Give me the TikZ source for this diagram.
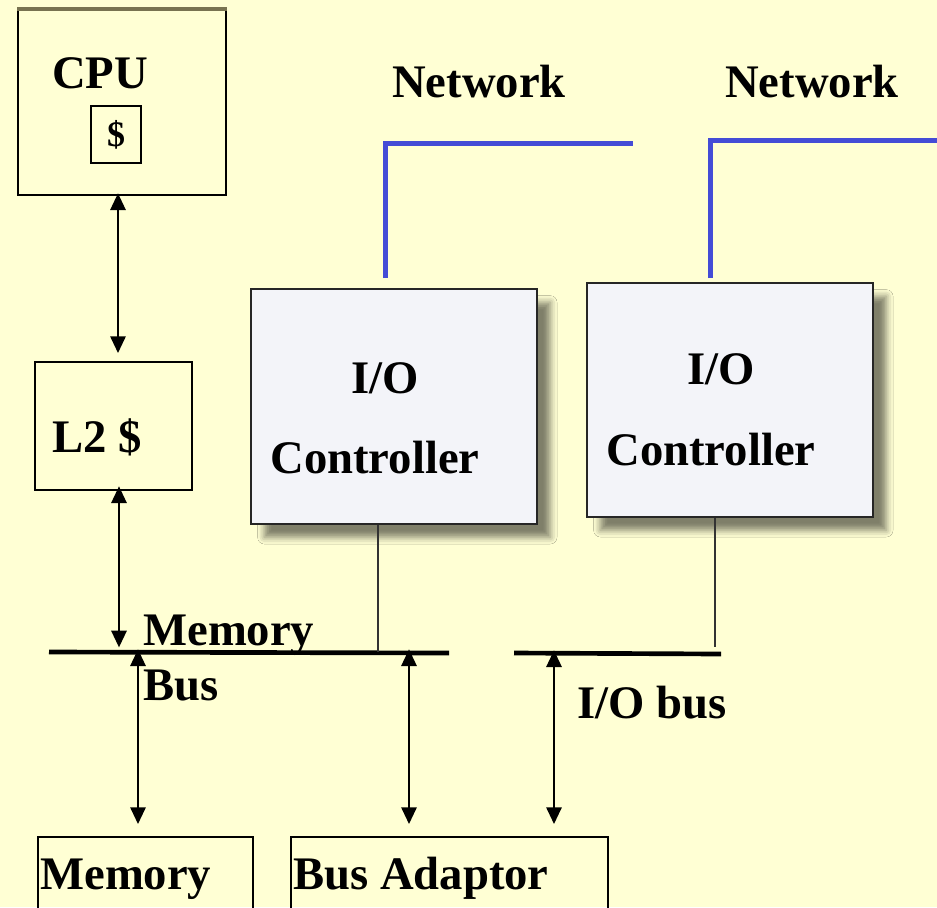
\documentclass[tikz,border=0pt]{standalone}
\usepackage{fontspec}
\setmainfont{Liberation Serif}
\usetikzlibrary{arrows.meta,fit,shadows.blur}
\definecolor{paper}{RGB}{255,255,212}
\definecolor{netblue}{RGB}{68,76,214}
\definecolor{ctrlfill}{RGB}{243,244,249}
\definecolor{edgesmear}{RGB}{120,115,80}
\begin{document}
\begin{tikzpicture}[x=0.75pt,y=-0.75pt,
  lbl/.style={font=\fontsize{35}{42}\selectfont\bfseries, inner sep=0pt},
  box/.style={draw=black, line width=1.5pt, inner sep=0pt},
  iobox/.style={draw=black!85, line width=1.5pt, fill=ctrlfill, inner sep=0pt,
    blur shadow={shadow xshift=10pt, shadow yshift=-10pt, shadow blur radius=5pt, shadow opacity=50}},
  darrow/.style={line width=1.4pt, {Triangle[length=12.5pt,width=11.5pt]}-{Triangle[length=12.5pt,width=11.5pt]}},
  bus/.style={line width=3.5pt},
  tap/.style={line width=1.1pt, draw=black!80},
  net/.style={line width=3.75pt, draw=netblue}]
% page
\fill[paper] (0,0) rectangle (937,907);
\useasboundingbox (0,0) rectangle (937,907);

% column positions used by the vertical links
\coordinate (x118) at (118,0);
\coordinate (x119) at (119,0);
\coordinate (x138) at (138,0);
\coordinate (x378) at (378,0);
\coordinate (x385) at (385,0);
\coordinate (x409) at (409,0);
\coordinate (x554) at (554,0);
\coordinate (x710) at (710,0);
\coordinate (x715) at (715,0);

% CPU with its cache
\node[box, fit={(18,10)(226,195)}] (cpu) {};
\draw[line width=2.4pt, draw=edgesmear] (cpu.north west) -- (cpu.north east);
\node[box, fit={(91,106)(141,163)}] (cache) {};
\node[lbl, anchor=base west] (cpulbl) at (52,88) {CPU};
\node[font=\fontsize{27}{31}\selectfont\bfseries, inner sep=0pt] (dollar) at (cache.center) {\$};

% second-level cache
\node[box, fit={(35,362)(192,490)}] (l2) {};
\node[lbl, anchor=base west] (l2lbl) at (52,452) {L2 \$};

% I/O controllers
\node[iobox, fit={(251,289)(537,524)}] (ioc1) {};
\node[lbl, anchor=base] (ioc1a) at (385,393) {I/O};
\node[lbl, anchor=base] (ioc1b) at (375,473) {Controller};
\node[iobox, fit={(587,283)(873,517)}] (ioc2) {};
\node[lbl, anchor=base] (ioc2a) at (721,384) {I/O};
\node[lbl, anchor=base] (ioc2b) at (711,465) {Controller};

% network links
\node[lbl, anchor=base west] (net1) at (392,97) {Network};
\node[lbl, anchor=base west] (net2) at (725,97) {Network};
\coordinate (n1end) at (633,143);
\coordinate (n2end) at (937,140);
\draw[net, shorten <=7.5pt] (ioc1.north -| x385) |- (n1end);
\draw[net, shorten <=3pt] (ioc2.north -| x710) |- (n2end);

% buses
\coordinate (mbL) at (49,652);
\coordinate (mbR) at (449,653);
\coordinate (ibL) at (514,653);
\coordinate (ibR) at (721,654);
\draw[bus] (mbL) -- (mbR);
\draw[bus] (ibL) -- (ibR);
\node[lbl, anchor=base west] (mblbl1) at (143,645) {Memory};
\node[lbl, anchor=base west] (mblbl2) at (143,700) {Bus};
\node[lbl, anchor=base west] (iblbl) at (577,718) {I/O bus};

% memory and bus adaptor
\node[box, fit={(38,837)(253,940)}] (mem) {};
\node[lbl, anchor=base west] (memlbl) at (40,889) {Memory};
\node[box, fit={(291,837)(608,940)}] (adapt) {};
\node[lbl, anchor=base west] (adaptlbl) at (293,889) {Bus Adaptor};

% controller taps onto the buses
\draw[tap] (ioc1.south -| x378) -- (mbL -| x378);
\draw[tap, shorten >=4.5pt] (ioc2.south -| x715) -- (ibL -| x715);

% two-way links
\draw[darrow, shorten <=-2pt, shorten >=6pt] (cpu.south -| x118) -- (l2.north -| x118);
\draw[darrow, shorten <=-3.5pt, shorten >=3.5pt] (l2.south -| x119) -- (mbL -| x119);
\draw[darrow, shorten <=-2pt, shorten >=9pt] (mbL -| x138) -- (mem.north -| x138);
\draw[darrow, shorten <=-2pt, shorten >=9pt] (mbL -| x409) -- (adapt.north -| x409);
\draw[darrow, shorten <=-2pt, shorten >=9pt] (ibL -| x554) -- (adapt.north -| x554);
\end{tikzpicture}
\end{document}
